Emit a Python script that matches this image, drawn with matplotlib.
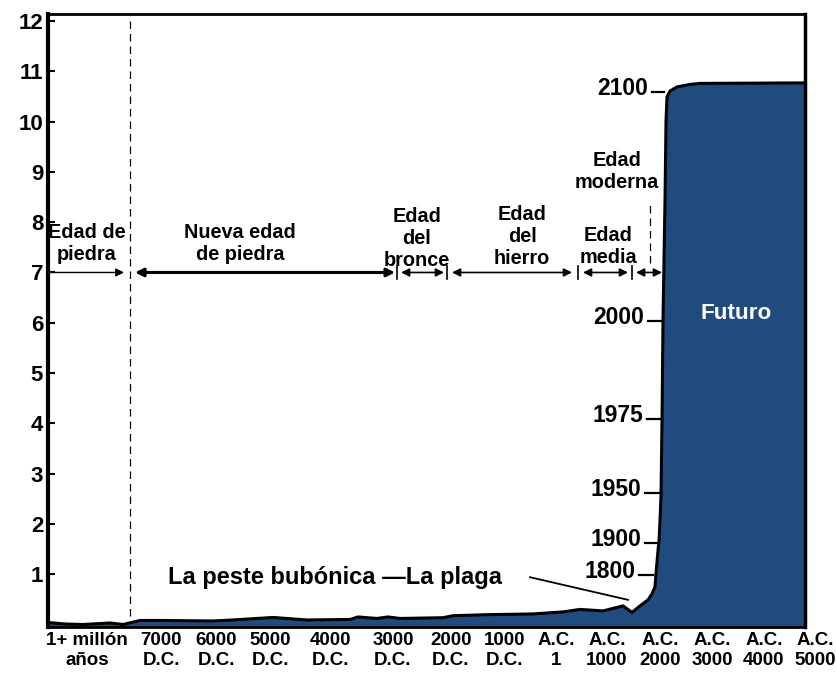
import matplotlib
matplotlib.use("Agg")
import matplotlib.pyplot as plt
import matplotlib.transforms as mtransforms

plt.rcParams['font.family'] = ['Liberation Sans', 'DejaVu Sans']
plt.rcParams['font.weight'] = 'bold'

# ---- data -------------------------------------------------------------
# x in "slot" units along the time axis (non-linear historical scale), y in billions
curve_x = [0.000, 0.314, 0.647, 1.147, 1.387, 1.701, 2.071, 3.052, 3.422, 4.161,
           4.790, 5.585, 5.733, 6.085, 6.288, 6.510, 7.305, 7.490, 8.119, 8.970,
           9.525, 9.839, 10.264, 10.634, 10.801, 10.949, 11.097, 11.171, 11.226,
           11.245, 11.282, 11.300, 11.319, 11.337, 11.356, 11.374, 11.411, 11.430,
           11.448, 11.504, 11.633, 11.874, 12.059, 14.000]
population = [0.04, 0.01, 0.00, 0.03, 0.00, 0.08, 0.08, 0.07, 0.09, 0.14,
              0.09, 0.10, 0.15, 0.12, 0.15, 0.12, 0.135, 0.175, 0.195, 0.21,
              0.25, 0.30, 0.27, 0.37, 0.24, 0.37, 0.49, 0.61, 0.75,
              1.02, 1.48, 1.66, 2.08, 2.57, 4.10, 6.05, 8.44, 10.03,
              10.49, 10.61, 10.69, 10.74, 10.76, 10.77]

x_labels = ["1+ millón\naños", "7000\nD.C.", "6000\nD.C.", "5000\nD.C.", "4000\nD.C.",
            "3000\nD.C.", "2000\nD.C.", "1000\nD.C.", "A.C.\n1", "A.C.\n1000",
            "A.C.\n2000", "A.C.\n3000", "A.C.\n4000", "A.C.\n5000"]
x_label_pos = [0.72, 2.09, 3.11, 4.11, 5.22, 6.38, 7.45, 8.45, 9.40, 10.34,
               11.32, 12.28, 13.24, 14.19]
y_ticks = list(range(1, 13))

years = ["2100", "2000", "1975", "1950", "1900", "1800"]
year_pop = [10.59, 6.03, 4.09, 2.61, 1.62, 0.98]
year_dash_start = [11.171, 11.097, 11.078, 11.041, 11.041, 10.930]
year_dash_end = [11.393, 11.356, 11.356, 11.300, 11.282, 11.190]

periods = ["Edad de\npiedra", "Nueva edad\nde piedra", "Edad\ndel\nbronce",
           "Edad\ndel\nhierro", "Edad\nmedia", "Edad\nmoderna"]
period_text_x = [0.72, 3.55, 6.82, 8.77, 10.36, 10.52]
period_text_y = [7.58, 7.57, 7.68, 7.72, 7.52, 9.00]
period_start = [0.0, 1.609, 6.529, 7.472, 9.894, 10.875]
period_end = [1.406, 6.418, 7.324, 9.691, 10.727, 11.356]
period_sep = [6.455, 7.379, 9.802, 10.801]
arrow_level = 7.0

fill_color = "#204b7f"

# ---- figure -----------------------------------------------------------
fig = plt.figure(figsize=(8.36, 6.75), dpi=100)
ax = fig.add_axes([48/836, 1-627/675, (805-48)/836, (627-14)/675])
ax.set_xlim(0, 14.0)
ax.set_ylim(-0.05, 12.14)

ax.fill_between(curve_x, population, -1, color=fill_color, zorder=2, lw=0)
ax.plot(curve_x, population, color='black', lw=2.2, zorder=3, solid_joinstyle='round')

# spines
for s, lw in [('left', 3), ('top', 2), ('right', 2.5), ('bottom', 2)]:
    ax.spines[s].set_linewidth(lw)
    ax.spines[s].set_color('black')
    ax.spines[s].set_zorder(5)

ax.set_yticks(y_ticks)
ax.set_yticklabels([str(t) for t in y_ticks], fontsize=16, fontweight='bold')
ax.tick_params(axis='y', direction='in', length=5, width=1.5, pad=3.5)
ax.set_xticks([])

trans = mtransforms.blended_transform_factory(ax.transData, ax.transAxes)
for lab, xp in zip(x_labels, x_label_pos):
    ax.text(xp, -0.008, lab, transform=trans, ha='center', va='top',
            fontsize=13.5, fontweight='bold', linespacing=1.25, clip_on=False)

# dashed separators
ax.plot([1.517, 1.517], [0.16, 12.06], color='black', lw=0.9, ls=(0, (6, 4)), zorder=1)
ax.plot([11.13, 11.13], [7.19, 8.38], color='black', lw=0.9, ls=(0, (6, 4)), zorder=1)

# period arrows
for i, (a, b) in enumerate(zip(period_start, period_end)):
    lw = 1.0 if i == 0 else (2.2 if i == 1 else 1.2)
    ax.annotate('', xy=(b, arrow_level), xytext=(a, arrow_level),
                arrowprops=dict(arrowstyle='-|>' if i == 0 else '<|-|>', color='black',
                                lw=lw, mutation_scale=12, shrinkA=0, shrinkB=0))
for sx in period_sep:
    ax.plot([sx, sx], [arrow_level - 0.13, arrow_level + 0.13], color='black', lw=1.2)

for lab, tx, ty in zip(periods, period_text_x, period_text_y):
    ax.text(tx, ty, lab, ha='center', va='center', fontsize=14.3, fontweight='bold',
            linespacing=1.2)

# year markers
for yr, yp, d0, d1 in zip(years, year_pop, year_dash_start, year_dash_end):
    ax.plot([d0, d1], [yp, yp], color='black', lw=1.6, zorder=4)
    ax.text(d0 - 0.07, yp + 0.07, yr, ha='right', va='center', fontsize=16.5,
            fontweight='bold')

# plague annotation
ax.text(2.219, 0.94, "La peste bubónica —La plaga", ha='left', va='center',
        fontsize=17, fontweight='bold')
ax.plot([8.914, 10.727], [0.94, 0.49], color='black', lw=1.3)

ax.text(12.72, 6.19, "Futuro", ha='center', va='center', fontsize=16.2,
        fontweight='bold', color='white', zorder=6)

fig.savefig("out.png", dpi=100)
